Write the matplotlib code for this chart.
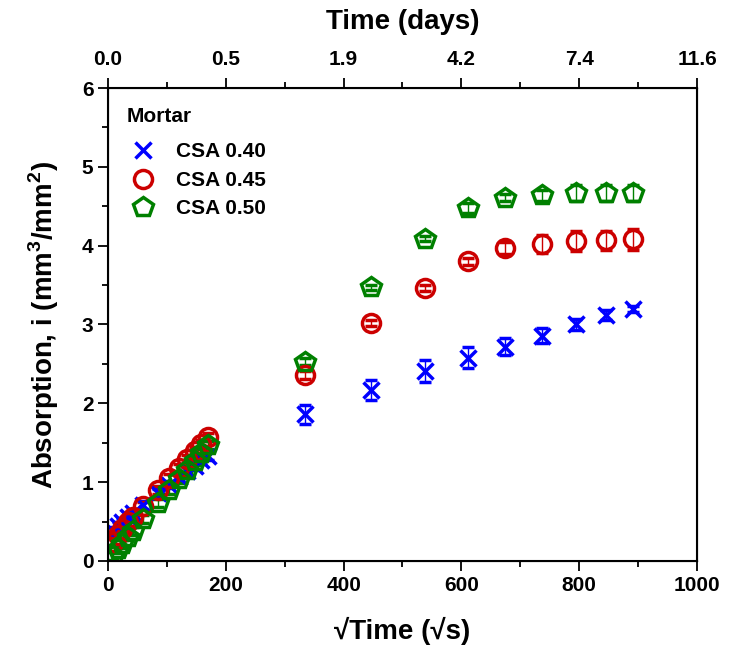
import matplotlib
matplotlib.use("Agg")
import matplotlib.pyplot as plt
import numpy as np

plt.rcParams["font.family"] = ["Liberation Sans", "DejaVu Sans"]
plt.rcParams["font.weight"] = "bold"
plt.rcParams["mathtext.fontset"] = "custom"
plt.rcParams["mathtext.bf"] = "Liberation Sans:bold"
plt.rcParams["mathtext.rm"] = "Liberation Sans:bold"

# sqrt(time) in sqrt(s)
sqrt_time_early = [7.7, 17.3, 24.5, 34.6, 42.4, 60.0, 84.9, 103.9, 120.0, 134.2, 147.0, 158.7, 169.7]
sqrt_time_late = [335, 447, 539, 612, 674, 736, 794, 845, 891]

csa040_early = [0.38, 0.45, 0.50, 0.56, 0.61, 0.71, 0.86, 0.97, 1.06, 1.14, 1.21, 1.28, 1.33]
csa045_early = [0.24, 0.33, 0.40, 0.49, 0.56, 0.70, 0.90, 1.05, 1.18, 1.29, 1.39, 1.48, 1.57]
csa050_early = [0.06, 0.15, 0.22, 0.31, 0.38, 0.53, 0.74, 0.90, 1.04, 1.16, 1.27, 1.37, 1.47]

csa040_late = [1.86, 2.17, 2.41, 2.58, 2.72, 2.86, 3.00, 3.12, 3.20]
csa045_late = [2.36, 3.02, 3.46, 3.80, 3.97, 4.02, 4.06, 4.07, 4.08]
csa050_late = [2.53, 3.47, 4.09, 4.48, 4.61, 4.64, 4.67, 4.67, 4.67]

err040_late = [0.12, 0.13, 0.14, 0.13, 0.11, 0.09, 0.07, 0.06, 0.04]
err045_late = [0.05, 0.04, 0.04, 0.04, 0.08, 0.11, 0.13, 0.12, 0.13]
err050_late = [0.04, 0.03, 0.03, 0.06, 0.04, 0.07, 0.10, 0.10, 0.10]
err_early = 0.05

labels = ["CSA 0.40", "CSA 0.45", "CSA 0.50"]
colors = ["#0000FF", "#CC0000", "#008000"]
markers = ["x", "o", "p"]

top_ticks = [0, 200, 400, 600, 800, 1000]
top_labels = ["0.0", "0.5", "1.9", "4.2", "7.4", "11.6"]

fig = plt.figure(figsize=(7.31, 6.49), dpi=100)
ax = fig.add_axes([0.1477, 0.1356, 0.8058, 0.7288])

series = [
    (csa040_early, csa040_late, err040_late),
    (csa045_early, csa045_late, err045_late),
    (csa050_early, csa050_late, err050_late),
]
sizes = {"x": 12, "o": 13, "p": 15}
for (early, late, err), label, color, marker in zip(series, labels, colors, markers):
    x = sqrt_time_early + sqrt_time_late
    y = early + late
    yerr = [err_early] * len(early) + err
    ax.errorbar(x, y, yerr=yerr, fmt=marker, color=color, mfc="none",
                mec=color, ms=sizes[marker], mew=2.5, elinewidth=1.0, capsize=4,
                capthick=1.0, label=label)

ax.set_xlim(0, 1000)
ax.set_ylim(0, 6)
ax.set_xticks([0, 200, 400, 600, 800, 1000])
ax.set_xticks(np.arange(100, 1000, 200), minor=True)
ax.set_yticks(range(0, 7))
ax.set_yticks(np.arange(0.5, 6, 1.0), minor=True)
ax.tick_params(which="major", direction="out", length=7, width=1.3, labelsize=15, top=False, right=False)
ax.tick_params(which="minor", direction="out", length=4, width=1.3, top=False, right=False)
for sp in ax.spines.values():
    sp.set_linewidth(1.5)

ax.set_xlabel("√Time (√s)", fontsize=20, fontweight="bold", labelpad=16)
ax.set_ylabel("Absorption, i (mm$^\\mathbf{3}$/mm$^\\mathbf{2}$)", fontsize=20, fontweight="bold", labelpad=15)

top = ax.twiny()
top.set_xlim(ax.get_xlim())
top.set_xticks(top_ticks)
top.set_xticklabels(top_labels)
top.set_xticks(np.arange(100, 1000, 200), minor=True)
top.tick_params(which="major", direction="out", length=7, width=1.3, labelsize=15, pad=7)
top.tick_params(which="minor", direction="out", length=4, width=1.3)
top.set_xlabel("Time (days)", fontsize=20, fontweight="bold", labelpad=15)

handles, _ = ax.get_legend_handles_labels()
handles = [h[0] for h in handles]
leg = ax.legend(handles, labels, title="Mortar", loc="upper left", frameon=False,
                fontsize=15, title_fontproperties={"size": 15, "weight": "bold"},
                handletextpad=0.75, handlelength=1.6, labelspacing=0.45,
                borderaxespad=0.5, bbox_to_anchor=(0.0, 1.0))
leg._legend_box.align = "left"
leg._legend_box.sep = 12

fig.savefig("out.png", dpi=100)
